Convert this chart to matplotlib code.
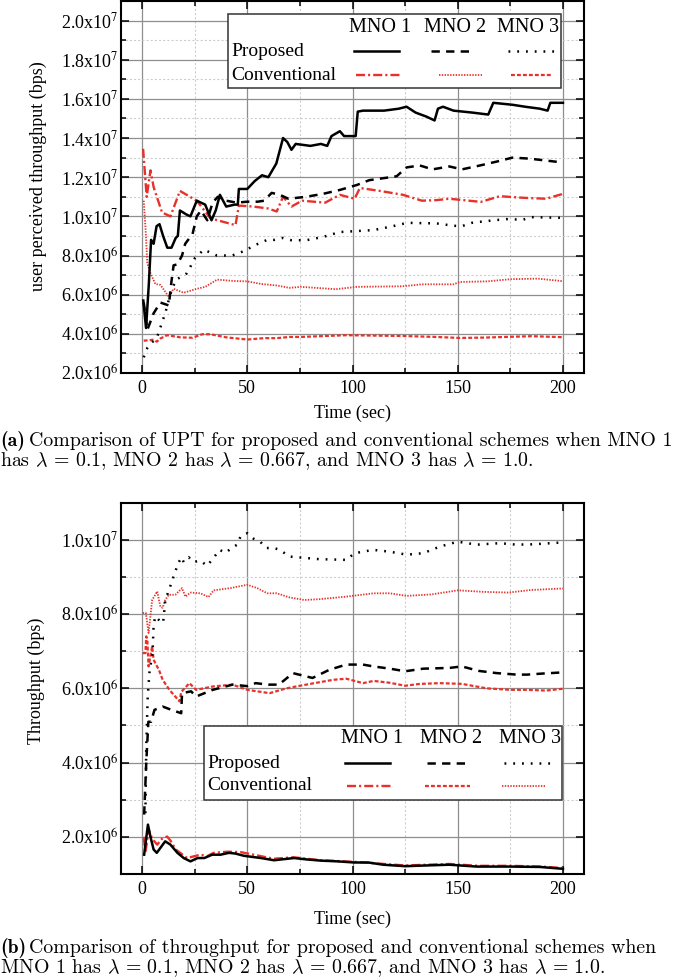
import numpy as np
import matplotlib
matplotlib.use('Agg')
import matplotlib.pyplot as plt
from matplotlib.ticker import MultipleLocator, FuncFormatter
from matplotlib.patches import Rectangle
from matplotlib.lines import Line2D

plt.rcParams['font.family'] = 'Liberation Serif'
plt.rcParams['mathtext.fontset'] = 'stix'
plt.rcParams['lines.scale_dashes'] = False

W, H = 685, 980

# ---- data (time in sec, throughput in Mbps) ----
# (a) user perceived throughput
a_prop1 = [(0.6, 5.7), (1.9, 4.3), (3.2, 6.5), (4.3, 8.8), (5.5, 8.6), (6.9, 9.5), (8.3, 9.6),
           (10, 9.0), (12, 8.4), (14, 8.4), (16, 8.9), (17, 9.0), (18, 10.3), (21, 10.1), (23, 10.0),
           (26, 10.8), (30, 10.6), (33, 9.8), (35, 10.3), (37, 11.1), (40, 10.5), (44, 10.6),
           (45.5, 10.6), (46, 11.4), (50, 11.4), (53.5, 11.8), (57, 12.1), (60, 12.0), (63.8, 12.7),
           (67, 14.0), (69, 13.8), (71, 13.4), (73, 13.7), (80, 13.6), (85, 13.7), (88, 13.6),
           (90, 14.1), (94, 14.35), (96, 14.1), (101.5, 14.1), (102.5, 15.35), (105, 15.4),
           (115, 15.4), (122, 15.5), (125.7, 15.6), (130, 15.3), (135, 15.1), (139, 14.9),
           (140.6, 15.5), (143, 15.6), (148, 15.4), (157, 15.3), (164.5, 15.2), (166.9, 15.8),
           (176, 15.7), (182, 15.6), (189, 15.5), (192.7, 15.4), (194, 15.8), (200, 15.8)]
a_prop2 = [(0.8, 5.6), (2.5, 4.2), (5.5, 5.05), (8.7, 5.6), (12.7, 5.45), (14, 6.7), (15, 7.5),
           (16.8, 7.55), (19, 8.0), (20.5, 8.6), (24, 9.1), (26, 10.0), (28, 10.3), (31, 9.8),
           (33.5, 10.7), (36, 11.0), (40, 10.8), (45, 10.7), (50, 10.75), (55, 10.75), (58, 10.8),
           (61.6, 11.2), (65.4, 11.1), (69.6, 10.9), (78, 11.0), (86, 11.15), (94, 11.35),
           (102, 11.6), (108, 11.85), (118, 12.0), (121, 12.05), (125.7, 12.5), (132, 12.6),
           (138, 12.4), (146, 12.55), (152, 12.4), (160.6, 12.6), (168.6, 12.8), (176, 13.0),
           (184, 12.95), (192, 12.85), (200, 12.75)]
a_prop3 = [(0.8, 2.8), (2.6, 3.3), (7.2, 3.85), (11, 5.05), (13.5, 6.05), (16, 6.75), (21.4, 7.1),
           (25, 7.85), (29.3, 8.3), (35.6, 8.0), (42.8, 8.0), (49, 8.25), (53, 8.5), (59.5, 8.8),
           (63, 8.8), (67, 8.9), (71, 8.78), (78, 8.78), (86, 8.95), (94, 9.2), (102, 9.25),
           (110, 9.3), (118, 9.47), (126, 9.67), (140, 9.64), (148, 9.52), (152, 9.5),
           (156.7, 9.67), (163.6, 9.76), (173, 9.86), (181, 9.83), (185, 9.96), (197, 9.93),
           (200, 9.93)]
a_conv1 = [(0.5, 13.45), (2.2, 11.0), (4, 12.35), (5.5, 11.5), (9.5, 10.2), (13.5, 10.0),
           (18, 11.3), (26, 10.8), (32.5, 9.9), (44.4, 9.55), (46, 10.55), (53, 10.5), (60, 10.4),
           (64, 10.25), (67, 11.0), (71, 10.5), (76, 10.8), (87, 10.7), (94, 11.1), (101, 10.9),
           (103.5, 11.45), (113, 11.3), (124, 11.1), (133, 10.8), (140, 10.83), (146, 10.9),
           (161, 10.74), (170, 11.03), (181, 10.95), (192, 10.9), (200, 11.15)]
a_conv2 = [(0.8, 10.8), (1.7, 9.3), (2.5, 7.6), (4, 7.1), (6.3, 6.55), (8.7, 6.5), (12.7, 5.9),
           (15, 6.3), (19.8, 6.1), (26, 6.3), (30, 6.4), (35.7, 6.77), (43.6, 6.7), (50, 6.68),
           (56.5, 6.55), (64, 6.47), (70, 6.35), (75.6, 6.4), (92, 6.28), (102, 6.4), (124, 6.43),
           (133, 6.53), (148, 6.53), (151, 6.65), (164, 6.68), (175, 6.79), (188, 6.82),
           (200, 6.69)]
a_conv3 = [(0.8, 3.65), (5.5, 3.7), (7, 3.6), (8.7, 3.76), (11.9, 3.93), (18.3, 3.82), (24, 3.8),
           (28.6, 3.98), (32.5, 3.98), (40, 3.82), (50, 3.71), (58, 3.78), (64, 3.78), (70, 3.84),
           (75, 3.84), (97, 3.93), (124, 3.89), (140, 3.84), (151, 3.79), (163, 3.81), (185, 3.88),
           (200, 3.83)]

# (b) throughput
b_prop1 = [(1.0, 1.52), (2.8, 2.33), (4, 2.0), (5.5, 1.66), (7, 1.57), (11, 1.88), (13.5, 1.79),
           (16.8, 1.57), (19.8, 1.43), (23, 1.34), (26.4, 1.43), (29.6, 1.43), (33.3, 1.52),
           (37.3, 1.52), (41.3, 1.57), (44.4, 1.55), (48.4, 1.49), (56.5, 1.43), (62.7, 1.37),
           (72.2, 1.43), (78.6, 1.39), (85, 1.36), (93, 1.34), (100.8, 1.31), (107.5, 1.31),
           (114.6, 1.25), (125, 1.21), (135, 1.23), (146, 1.25), (159, 1.2), (175, 1.2),
           (189, 1.19), (200, 1.14)]
b_prop2 = [(1.0, 2.6), (2, 4.0), (3, 5.1), (4.3, 5.1), (5.9, 5.42), (9.8, 5.51), (14, 5.42),
           (18.6, 5.33), (19, 5.87), (23.3, 5.92), (25.7, 5.78), (33.6, 5.96), (43, 6.1), (50, 6.06),
           (54, 6.14), (60, 6.1), (65, 6.1), (71.7, 6.41), (81, 6.28), (89, 6.5), (97, 6.64),
           (105, 6.64), (110, 6.59), (117.8, 6.53), (125, 6.46), (133.6, 6.53), (146, 6.55),
           (152, 6.59), (160, 6.47), (168.6, 6.41), (178, 6.37), (183, 6.37), (190.7, 6.4),
           (200, 6.43)]
b_prop3 = [(1.6, 2.64), (2, 4.44), (2.7, 5.78), (3.5, 6.42), (5, 6.96), (5.5, 7.71), (6.3, 7.94),
           (8.7, 7.8), (10, 7.76), (11, 8.34), (12.7, 8.65), (14.3, 8.88), (15.2, 9.06),
           (17.4, 9.39), (18.7, 9.53), (19.8, 9.4), (22.2, 9.53), (24.3, 9.4), (27.7, 9.44),
           (30.9, 9.3), (33.8, 9.5), (36.8, 9.73), (39.7, 9.65), (42.6, 9.78), (45.2, 9.87),
           (46.8, 10.09), (50, 10.18), (53, 10.03), (56.3, 9.94), (59, 9.78), (62.6, 9.78),
           (65.5, 9.73), (70, 9.55), (84, 9.48), (97, 9.46), (101, 9.64), (109.8, 9.73),
           (117.8, 9.68), (125.7, 9.6), (133.6, 9.64), (141.6, 9.82), (150, 9.95), (159, 9.87),
           (170, 9.91), (178, 9.87), (186, 9.88), (200, 9.93)]
b_conv1 = [(0.8, 2.0), (1.6, 1.57), (3.1, 2.2), (4.8, 1.95), (7.2, 1.79), (9.5, 1.95),
           (11.9, 2.01), (13.5, 1.9), (16, 1.66), (21.4, 1.43), (27.7, 1.52), (31, 1.48), (34, 1.57),
           (40.5, 1.6), (46.8, 1.59), (53, 1.52), (62.6, 1.41), (72, 1.45), (85, 1.37), (100, 1.33),
           (115, 1.27), (125, 1.23), (146, 1.27), (160, 1.22), (175, 1.22), (190, 1.2), (200, 1.16)]
b_conv2 = [(0.3, 6.95), (1.6, 6.95), (2, 7.4), (2.5, 7.3), (3.1, 6.59), (4.8, 7.13), (5.5, 6.77),
           (6.3, 6.68), (8, 6.5), (9.8, 6.23), (13, 5.96), (17.8, 5.65), (18.6, 5.9), (22.5, 6.14),
           (25.7, 5.96), (33.6, 6.05), (43, 6.1), (50, 5.96), (60.6, 5.87), (68.6, 6.0), (75, 6.07),
           (90.8, 6.23), (97, 6.26), (105, 6.14), (110, 6.2), (117.8, 6.15), (125, 6.07),
           (132, 6.12), (141.6, 6.14), (152, 6.12), (163.8, 6.0), (175, 5.96), (183, 5.96),
           (192, 5.94), (200, 5.99)]
b_conv3 = [(0.3, 8.03), (1.8, 8.03), (3.1, 7.49), (4.8, 8.38), (7.2, 8.61), (8.7, 8.2), (9.8, 8.17),
           (11, 8.38), (12.7, 8.52), (15.8, 8.52), (19, 8.7), (20.6, 8.47), (23, 8.58), (27.7, 8.56),
           (31.6, 8.46), (34, 8.64), (42, 8.7), (50, 8.79), (54.7, 8.7), (59.5, 8.56), (64, 8.56),
           (70, 8.45), (77, 8.38), (84, 8.4), (97, 8.47), (110, 8.56), (117.8, 8.56),
           (125.7, 8.49), (137.6, 8.53), (150, 8.64), (162, 8.6), (174, 8.58), (185, 8.65),
           (200, 8.69)]

operators = ['MNO 1', 'MNO 2', 'MNO 3']
schemes = ['Proposed', 'Conventional']

RED = '#e8312a'
STY = {
    'solid': dict(color='black', lw=1.8, ls='-'),
    'dash': dict(color='black', lw=1.8, dashes=(6, 4.5)),
    'dot': dict(color='black', lw=1.8, dashes=(1.3, 5)),
    'dashdot': dict(color=RED, lw=1.7, dashes=(6.5, 2.2, 1.5, 2.2)),
    'finedot': dict(color=RED, lw=1.3, dashes=(1.0, 1.0)),
    'shortdash': dict(color=RED, lw=1.6, dashes=(2.8, 1.5)),
}


def px(x, y):
    return x / W, 1 - y / H


def sci_fmt(v, pos):
    if v <= 0:
        return ''
    e = int(np.floor(np.log10(v) + 1e-9))
    m = v / 10 ** e
    return f'{m:.1f}x10$^{{{e}}}$'


def style_axes(ax, ymin, ymax):
    ax.set_xlim(-10, 210)
    ax.set_ylim(ymin, ymax)
    ax.xaxis.set_major_locator(MultipleLocator(50))
    ax.xaxis.set_minor_locator(MultipleLocator(25))
    ax.yaxis.set_major_locator(MultipleLocator(2e6))
    ax.yaxis.set_minor_locator(MultipleLocator(1e6))
    ax.yaxis.set_major_formatter(FuncFormatter(sci_fmt))
    ax.grid(True, which='major', color='#8e8e8e', lw=0.9, ls='-')
    ax.grid(True, which='minor', color='#cccccc', lw=0.8, ls=(0, (1.5, 1.5)))
    ax.set_axisbelow(True)
    ax.tick_params(which='both', direction='in', top=True, right=True, labelsize=13, width=1.1)
    ax.tick_params(which='major', length=6)
    ax.tick_params(which='minor', length=3.5)
    ax.tick_params(axis='x', pad=5)
    ax.tick_params(axis='y', pad=2)
    for s in ax.spines.values():
        s.set_linewidth(1.5)


def draw_key(fig, box, heads_x, head_y, label_x, rows_y, segs, styles):
    x0, y0, x1, y1 = box
    fx0, fy1 = px(x0, y1)
    fx1, fy0 = px(x1, y0)
    fig.add_artist(Rectangle((fx0, fy1), fx1 - fx0, fy0 - fy1, transform=fig.transFigure,
                             facecolor='white', edgecolor='#333333', lw=1.1, zorder=5))
    for name, hx in zip(operators, heads_x):
        fx, fy = px(hx, head_y)
        fig.text(fx, fy, name, ha='center', va='center', fontsize=14.5, zorder=6)
    for r, (scheme, ry) in enumerate(zip(schemes, rows_y)):
        fx, fy = px(label_x, ry)
        fig.text(fx, fy, scheme, ha='left', va='center', fontsize=14, zorder=6)
        for (sx0, sx1), st in zip(segs[r], styles[r]):
            a, b = px(sx0, ry)
            c, _ = px(sx1, ry)
            fig.add_artist(Line2D([a, c], [b, b], transform=fig.transFigure, zorder=6, **STY[st]))


fig = plt.figure(figsize=(W / 100, H / 100), dpi=100)

# ---------- (a) ----------
ax1 = fig.add_axes([121 / W, 1 - 373 / H, 463 / W, 372 / H])
style_axes(ax1, 2e6, 2.1e7)
for pts, st in [(a_conv1, 'dashdot'), (a_conv2, 'finedot'), (a_conv3, 'shortdash'),
                (a_prop3, 'dot'), (a_prop2, 'dash'), (a_prop1, 'solid')]:
    arr = np.array(pts, dtype=float)
    ax1.plot(arr[:, 0], arr[:, 1] * 1e6, **STY[st])
ax1.set_xlabel('Time (sec)', fontsize=13, va='center')
ax1.xaxis.set_label_coords(0.5, -0.108)
ax1.set_ylabel('user perceived throughput (bps)', fontsize=13, va='center')
ax1.yaxis.set_label_coords(-0.179, 0.53)

draw_key(fig, (228, 14, 561, 88), [380, 455, 528], 27, 231, [51.5, 75],
         [[(354, 399), (431, 472), (508, 554)], [(356, 402), (439, 482), (511, 552)]],
         [['solid', 'dash', 'dot'], ['dashdot', 'finedot', 'shortdash']])

# ---------- (b) ----------
ax2 = fig.add_axes([121 / W, 1 - 874 / H, 463 / W, 371.3 / H])
style_axes(ax2, 1e6, 1.1e7)
ax2.set_yticks(np.arange(2e6, 1.01e7, 2e6))
for pts, st in [(b_conv3, 'finedot'), (b_conv2, 'shortdash'), (b_conv1, 'dashdot'),
                (b_prop3, 'dot'), (b_prop2, 'dash'), (b_prop1, 'solid')]:
    arr = np.array(pts, dtype=float)
    ax2.plot(arr[:, 0], arr[:, 1] * 1e6, **STY[st])
ax2.set_xlabel('Time (sec)', fontsize=13, va='center')
ax2.xaxis.set_label_coords(0.5, -0.121)
ax2.set_ylabel('Throughput (bps)', fontsize=13, va='center')
ax2.yaxis.set_label_coords(-0.182, 0.52)

draw_key(fig, (204, 726, 562, 800), [372, 451, 530], 738, 207, [763, 786],
         [[(345, 390), (427, 467), (504, 550)], [(347, 393), (425, 470), (502, 545)]],
         [['solid', 'dash', 'dot'], ['dashdot', 'shortdash', 'finedot']])

# ---------- captions ----------
cap = [
    ('(a)', 'Comparison of UPT for proposed and conventional schemes when MNO 1',
     r'has $\lambda\,=\,0.1$, MNO 2 has $\lambda\,=\,0.667$, and MNO 3 has $\lambda\,=\,1.0$.', 441),
    ('(b)', 'Comparison of throughput for proposed and conventional schemes when',
     r'MNO 1 has $\lambda\,=\,0.1$, MNO 2 has $\lambda\,=\,0.667$, and MNO 3 has $\lambda\,=\,1.0$.', 948),
]
for tag, line1, line2, yc in cap:
    fx, fy = px(0, yc)
    fig.text(fx, fy, tag, family='cmb10', fontsize=14.2, va='center', ha='left')
    fx, fy = px(29, yc)
    fig.text(fx, fy, line1, family='cmr10', fontsize=14.3, va='center', ha='left')
    fx, fy = px(0, yc + 20.5)
    fig.text(fx, fy, line2, family='cmr10', fontsize=14.3, va='center', ha='left',
             math_fontfamily='cm')

fig.savefig('out.png', dpi=100)
